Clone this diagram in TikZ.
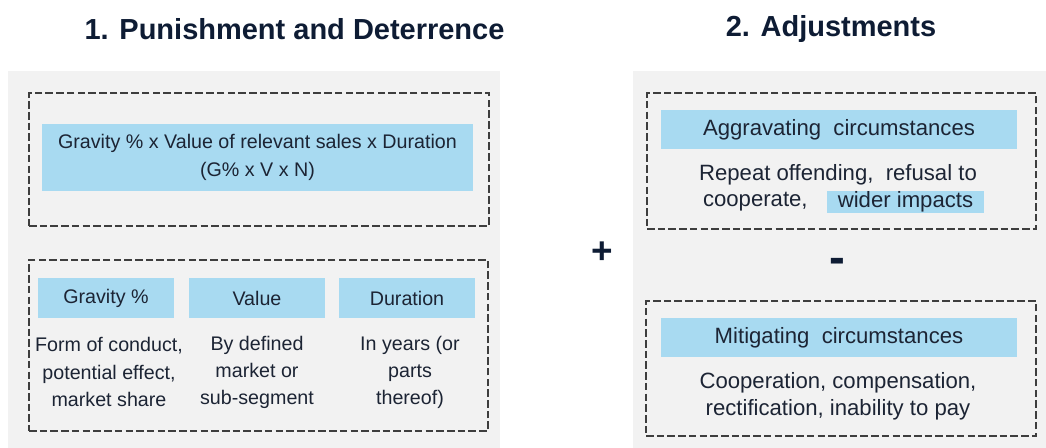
\documentclass[tikz,border=0pt]{standalone}
\usepackage{fontspec}
\setmainfont{Liberation Sans}
\begin{document}
\definecolor{navy}{RGB}{14,28,52}
\definecolor{bodytext}{RGB}{28,36,52}
\definecolor{skyfill}{RGB}{168,218,241}
\definecolor{panelgray}{RGB}{242,242,242}
\definecolor{dashgray}{RGB}{62,62,62}
\begin{tikzpicture}[x=0.02cm,y=-0.02cm,
  panel/.style={fill=panelgray,draw=none,inner sep=0pt},
  dashbox/.style={draw=dashgray,line width=1.1pt,dash pattern=on 4.3pt off 1.8pt,inner sep=0pt},
  bluebox/.style={fill=skyfill,draw=none,inner sep=0pt,text=bodytext,
    font=\fontsize{11.2}{15.8}\selectfont,align=center},
  bodytxt/.style={text=bodytext,inner sep=0pt,align=center,
    font=\fontsize{11.2}{15.4}\selectfont},
  bigger/.style={font=\fontsize{12.6}{15.2}\selectfont},
  headline/.style={text=navy,inner sep=0pt,font=\fontsize{16.5}{20}\selectfont\bfseries},
  opsign/.style={text=navy,inner sep=0pt,font=\fontsize{21}{24}\selectfont\bfseries}]
\useasboundingbox (0,0) rectangle (1046,448);
\fill[white] (0,0) rectangle (1046,448);

% section titles
\node[headline] (t1) at (294.5,29) {1. Punishment and Deterrence};
\node[headline] (t2) at (831,29) {2. Adjustments};

% grey background panels
\node[panel,minimum width=9.84cm,minimum height=7.56cm] (pl) at (254,260) {};
\node[panel,minimum width=8.26cm,minimum height=7.56cm] (pr) at (839.5,260) {};

% left: formula
\node[dashbox,minimum width=9.2cm,minimum height=2.66cm] (fbox) at (259,159.5) {};
\node[bluebox,minimum width=8.62cm,minimum height=1.34cm] (formula) at (257.5,157.5)
  {Gravity \% x Value of relevant sales x Duration\\(G\% x V x N)};

% left: components
\node[dashbox,minimum width=9.18cm,minimum height=3.42cm] (cbox) at (258.5,345.5) {};
\node[bluebox,minimum width=2.72cm,minimum height=0.8cm] (grav) at (106,298) {Gravity \%};
\node[bluebox,minimum width=2.72cm,minimum height=0.8cm] (val) at (257,298) {Value};
\node[bluebox,minimum width=2.72cm,minimum height=0.8cm] (dur) at (407,298) {Duration};
\node[bodytxt] (gravd) at (109,372) {Form of conduct,\\potential effect,\\market share};
\node[bodytxt] (vald) at (257,372) {By defined\\market or\\sub-segment};
\node[bodytxt] (durd) at (410,372) {In years (or\\parts\\thereof)};

% operators
\node[opsign] (plus) at (602,253) {+};
\node[opsign,font=\fontsize{27}{30}\selectfont\bfseries] (minus) at (837,266) {-};

% right: aggravating
\node[dashbox,minimum width=7.78cm,minimum height=2.72cm] (abox) at (841.5,161) {};
\node[bluebox,bigger,minimum width=7.12cm,minimum height=0.78cm] (aggr) at (839,129.5)
  {Aggravating\ \ circumstances};
\node[bodytxt,bigger] (aline) at (838,175) {Repeat offending,\ \ refusal to};
\node[bluebox,bigger,minimum width=3.14cm,minimum height=0.44cm] (wider) at (905.5,202) {wider impacts};
\node[bodytxt,bigger,anchor=east] (coop) at (808,202) {cooperate,};

% right: mitigating
\node[dashbox,minimum width=7.8cm,minimum height=2.7cm] (mbox) at (841,368.5) {};
\node[bluebox,bigger,minimum width=7.12cm,minimum height=0.78cm] (mitig) at (839,337.5)
  {Mitigating\ \ circumstances};
\node[bodytxt,bigger] (mtext) at (838,396) {Cooperation, compensation,\\rectification, inability to pay};
\end{tikzpicture}
\end{document}
